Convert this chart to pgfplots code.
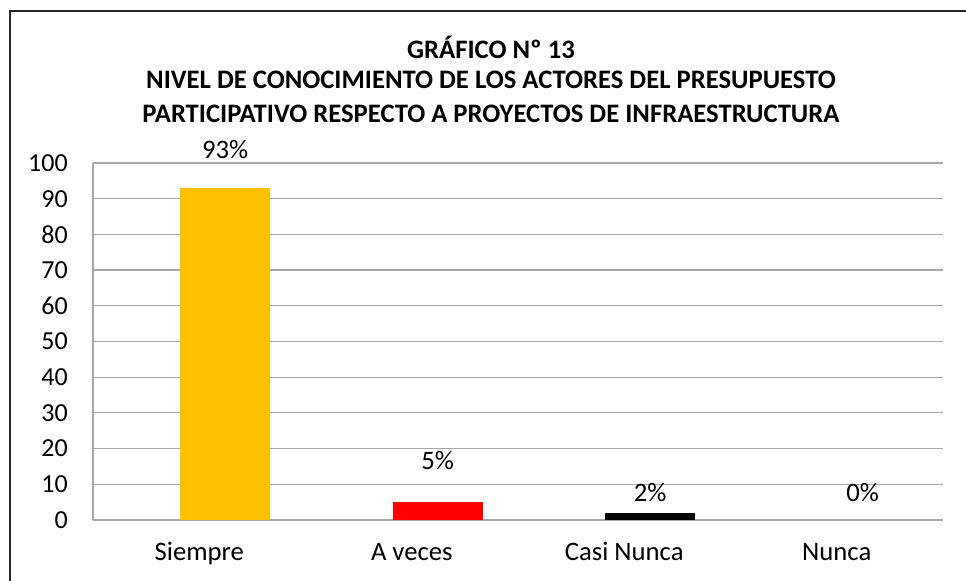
\documentclass[border=0pt]{standalone}
\usepackage{fontspec}
\setmainfont{Carlito}
\usepackage{pgfplots}
\pgfplotsset{compat=1.18}
\definecolor{barorange}{RGB}{255,192,0}
\definecolor{gridgray}{RGB}{166,166,166}

% 1 px of the reference = 0.75pt
\begin{document}
\begin{tikzpicture}[font=\fontsize{20}{24}\selectfont]
\useasboundingbox (0,0) rectangle (724.5pt,435.75pt);
\draw[line width=1.1pt, black!85] (7.5pt,-2pt) -- (7.5pt,427.5pt) -- (728pt,427.5pt);
\node[font=\fontsize{20}{24}\selectfont\bfseries] at (368.25pt,400.5pt) {GRÁFICO Nº 13};
\node[font=\fontsize{20}{24}\selectfont\bfseries] at (368.25pt,375.75pt) {NIVEL DE CONOCIMIENTO DE LOS ACTORES DEL PRESUPUESTO};
\node[font=\fontsize{20}{24}\selectfont\bfseries] at (368.25pt,350.25pt) {PARTICIPATIVO RESPECTO A PROYECTOS DE INFRAESTRUCTURA};
\begin{axis}[
  at={(69.75pt,45.75pt)}, anchor=south west,
  scale only axis, width=637.5pt, height=267.75pt,
  xmin=-0.5, xmax=3.5, ymin=0, ymax=100,
  xtick={0,1,2,3},
  xticklabels={Siempre,A veces,Casi Nunca,Nunca},
  ytick={0,10,...,100},
  axis x line=bottom, axis y line=left,
  axis line style={gridgray, line width=0.9pt, -},
  ymajorgrids, grid style={gridgray, line width=0.9pt},
  major tick length=0pt,
  xticklabel style={font=\fontsize{20}{24}\selectfont, inner sep=0pt, anchor=base, yshift=-30.4pt},
  yticklabel style={font=\fontsize{19.5}{23}\selectfont, inner sep=0pt, anchor=east, xshift=-18.75pt},
  /pgf/number format/assume math mode=true,
  clip=false,
]
\addplot[ybar, bar width=0.4235, bar shift=0.122, fill=barorange, draw=none] coordinates {(0,93)};
\addplot[ybar, bar width=0.4235, bar shift=0.122, fill=red, draw=none] coordinates {(1,5)};
\addplot[ybar, bar width=0.4235, bar shift=0.122, fill=black, draw=none] coordinates {(2,2)};
\addplot[ybar, bar width=0.4235, bar shift=0.122, fill=none, draw=none] coordinates {(3,0)};
% data labels (positions as in the reference)
\addplot[draw=none, mark=none, point meta=explicit,
  nodes near coords={\pgfmathprintnumber{\pgfplotspointmeta}\%},
  nodes near coords style={anchor=base, inner sep=0pt, font=\fontsize{20}{24}\selectfont}]
  table[meta=pct] {
x     y     pct
0.122 101.3 93
1.122 14.1  5
2.122 5.2   2
3.122 5.2   0
};
\end{axis}
\end{tikzpicture}
\end{document}
